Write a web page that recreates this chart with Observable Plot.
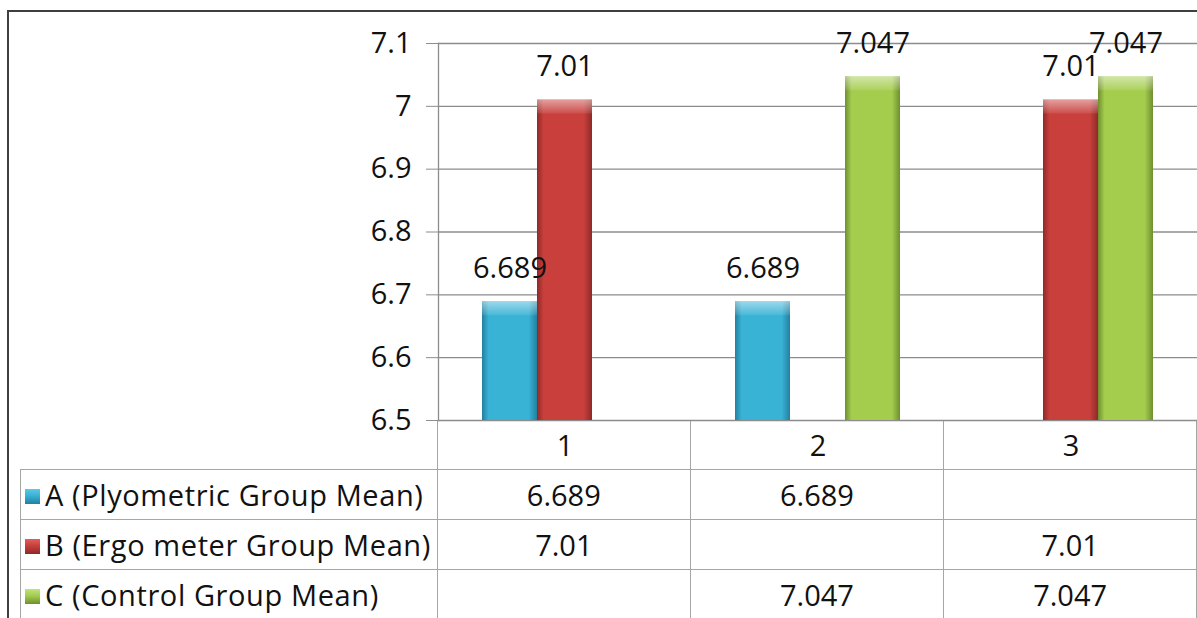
<!DOCTYPE html>
<html>
<head>
<meta charset="utf-8">
<script src="https://cdn.jsdelivr.net/npm/d3@7"></script>
<script src="https://cdn.jsdelivr.net/npm/@observablehq/plot@0.6"></script>
<style>
  html, body { margin: 0; padding: 0; background: #fff; }
  #wrap { position: relative; width: 1197px; height: 618px; overflow: hidden; background: #fff;
          font-family: "Open Sans", sans-serif; color: #111; }
  #frame { position: absolute; left: 7px; top: 10px; width: 1300px; height: 700px;
           border-left: 2px solid #3f3f3f; border-top: 2px solid #3f3f3f; }
  #chart { position: absolute; left: 0; top: 0; }
  #tbl { position: absolute; left: 20px; top: 420px; border-collapse: collapse; table-layout: fixed;
         font-size: 29px; }
  #tbl td { height: 49px; padding: 0; text-align: center; border: 1.5px solid #a6a6a6; white-space: nowrap; }
  #tbl tr.head td { border-top: none; }
  #tbl tr.head td.blank { border: none; }
  #tbl td.lab { text-align: left; padding-left: 4px; }
  #tbl td.lab .txt { letter-spacing: 0.6px; }
  .key { display: inline-block; width: 15px; height: 15px; margin-right: 5px; vertical-align: 2px; }
</style>
</head>
<body>
<div id="wrap">
  <div id="frame"></div>
  <table id="tbl"></table>
  <div id="chart"></div>
</div>
<script>
// ---- data ----
const categories = ["1", "2", "3"];
const seriesKeys = ["A", "B", "C"];
const seriesNames = ["A (Plyometric Group Mean)", "B (Ergo meter Group Mean)", "C (Control Group Mean)"];
const seriesA = [6.689, 6.689, null];
const seriesB = [7.01, null, 7.01];
const seriesC = [null, 7.047, 7.047];
const yTicks = [6.5, 6.6, 6.7, 6.8, 6.9, 7, 7.1];
const yTickLabels = ["6.5", "6.6", "6.7", "6.8", "6.9", "7", "7.1"];
const yDomain = [6.5, 7.1];

const seriesValues = [seriesA, seriesB, seriesC];
const colors = {
  A: {dark: "#22809f", main: "#38b2d5", light: "#5cc9e6"},
  B: {dark: "#8f2927", main: "#c93f3c", light: "#e0605b"},
  C: {dark: "#6f8f2e", main: "#a4cd4e", light: "#c3e27d"}
};

const rows = [];
seriesKeys.forEach((k, i) => {
  categories.forEach((c, j) => {
    const v = seriesValues[i][j];
    if (v != null) rows.push({cat: c, key: k, value: v});
  });
});

const fontFamily = '"Open Sans", sans-serif';

const chart = Plot.plot({
  width: 1197,
  height: 470,
  marginLeft: 437,
  marginRight: 0,
  marginTop: 43,
  marginBottom: 50,
  style: {background: "transparent", fontFamily, fontSize: "29px", color: "#111", overflow: "visible"},
  fx: {domain: categories, padding: 0, label: null},
  x: {domain: seriesKeys, paddingInner: 0, paddingOuter: 0.762, axis: null},
  y: {domain: yDomain, label: null},
  color: {domain: seriesKeys, range: seriesKeys.map(k => `url(#grad${k})`)},
  marks: [
    Plot.gridY(yTicks, {stroke: "#8c8c8c", strokeOpacity: 1, strokeWidth: 1.3}),
    Plot.axisY(yTicks, {tickSize: 12, tickPadding: 15, stroke: "#8c8c8c", fill: "#111",
      fontSize: 29, label: null, tickFormat: (d) => yTickLabels[yTicks.indexOf(d)]}),
    Plot.axisFx({anchor: "bottom", tickSize: 0, tickPadding: 15, fontSize: 29, label: null, fill: "#111"}),
    Plot.frame({anchor: "left", facet: "super", stroke: "#8c8c8c", strokeWidth: 1.3}),
    Plot.barY(rows, {fx: "cat", x: "key", y1: yDomain[0], y2: "value", fill: "key"}),
    Plot.barY(rows, {fx: "cat", x: "key", y1: "value", y2: "value", insetBottom: -14, fill: "url(#bevel)"}),
    Plot.text(rows, {fx: "cat", x: "key", y: "value", text: d => String(d.value), dy: -33,
      fontSize: 29, fill: "#111", lineAnchor: "middle"})
  ]
});

// gradients for bevel-like bars
const defs = seriesKeys.map(k => {
  const c = colors[k];
  return `<linearGradient id="grad${k}" x1="0" x2="1" y1="0" y2="0">
    <stop offset="0" stop-color="${c.dark}"/>
    <stop offset="0.12" stop-color="${c.main}"/>
    <stop offset="0.85" stop-color="${c.main}"/>
    <stop offset="1" stop-color="${c.dark}"/>
  </linearGradient>`;
}).join("") + `<linearGradient id="bevel" x1="0" x2="0" y1="0" y2="1">
    <stop offset="0" stop-color="#fff" stop-opacity="0.5"/>
    <stop offset="1" stop-color="#fff" stop-opacity="0.08"/>
  </linearGradient>`;
d3.select(chart).insert("defs", ":first-child").html(defs);
document.getElementById("chart").appendChild(chart);

// data table below the plot
const tbl = d3.select("#tbl");
const cg = tbl.append("colgroup");
[417, 253, 254, 253].forEach(w => cg.append("col").style("width", w + "px"));
const head = tbl.append("tr").attr("class", "head");
head.append("td").attr("class", "blank");
categories.forEach(() => head.append("td"));
seriesKeys.forEach((k, i) => {
  const tr = tbl.append("tr");
  const c = colors[k];
  const lab = tr.append("td").attr("class", "lab").style("border-left", "1.5px solid #a6a6a6");
  lab.append("span").attr("class", "key")
    .style("background", `linear-gradient(to bottom, ${c.light} 0%, ${c.main} 45%, ${c.dark} 100%)`);
  lab.append("span").attr("class", "txt").text(seriesNames[i]);
  categories.forEach((cat, j) => {
    const v = seriesValues[i][j];
    tr.append("td").text(v == null ? "" : String(v));
  });
});
</script>
</body>
</html>
